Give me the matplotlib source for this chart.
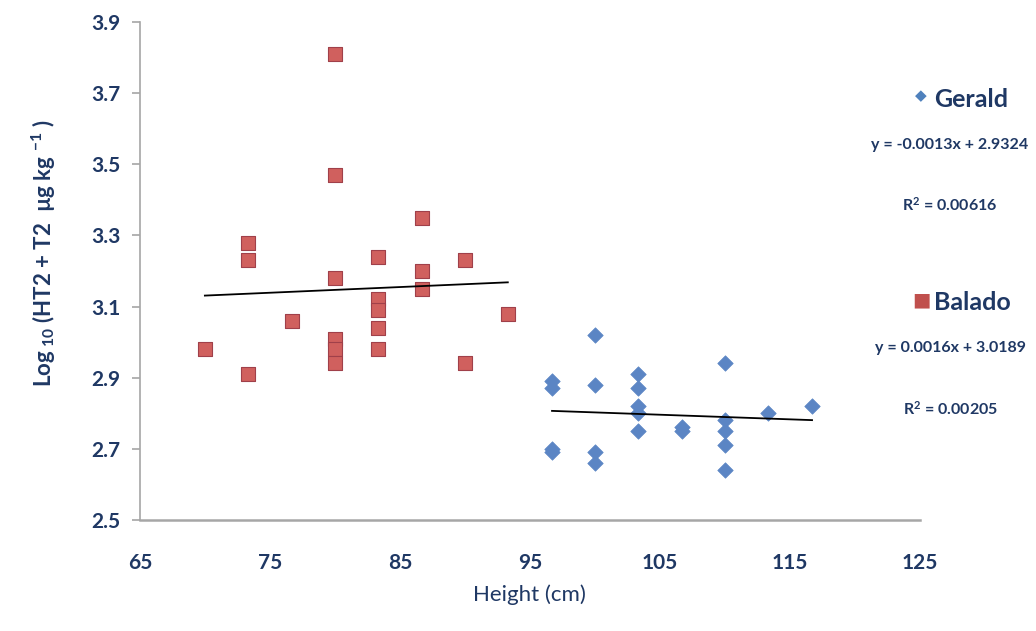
import numpy as np
import matplotlib
matplotlib.use('Agg')
import matplotlib.pyplot as plt

plt.rcParams['font.family'] = ['Lato', 'DejaVu Sans']
plt.rcParams['mathtext.fontset'] = 'custom'
plt.rcParams['mathtext.rm'] = 'Lato:bold'
plt.rcParams['mathtext.it'] = 'Lato:bold'
plt.rcParams['mathtext.bf'] = 'Lato:bold'

# Balado (red squares)
balado_x = [70, 73.3, 73.3, 73.3, 76.7, 80, 80, 80, 80, 80, 80,
            83.3, 83.3, 83.3, 83.3, 83.3, 86.7, 86.7, 86.7, 90, 90, 93.3]
balado_y = [2.98, 3.28, 3.23, 2.91, 3.06, 3.81, 3.47, 3.18, 3.01, 2.98, 2.94,
            3.24, 3.12, 3.09, 3.04, 2.98, 3.35, 3.20, 3.15, 3.23, 2.94, 3.08]

# Gerald (blue diamonds)
gerald_x = [96.7, 96.7, 96.7, 96.7, 100, 100, 100, 100,
            103.3, 103.3, 103.3, 103.3, 103.3, 106.7, 106.7,
            110, 110, 110, 110, 110, 113.3, 116.7]
gerald_y = [2.89, 2.87, 2.70, 2.69, 3.02, 2.88, 2.69, 2.66,
            2.91, 2.87, 2.82, 2.80, 2.75, 2.76, 2.75,
            2.94, 2.78, 2.75, 2.71, 2.64, 2.80, 2.82]

# trendline coefficients (slope, intercept)
balado_fit = (0.0016, 3.0189)
gerald_fit = (-0.0013, 2.9324)

x_ticks = [65, 75, 85, 95, 105, 115, 125]
y_ticks = [2.5, 2.7, 2.9, 3.1, 3.3, 3.5, 3.7, 3.9]

navy = '#1f3864'
red = '#c0504d'
blue = '#4f81bd'

fig = plt.figure(figsize=(10.36, 6.31), dpi=100)
ax = fig.add_axes([0.135, 0.176, 0.753, 0.789])

ax.scatter(balado_x, balado_y, marker='s', s=105, color='#d0605e',
           edgecolors='#a0404a', linewidths=0.8, zorder=3)
ax.scatter(gerald_x, gerald_y, marker='D', s=62, color='#5b85c4',
           edgecolors='#5b85c4', linewidths=0.5, zorder=3)

bx = np.array([min(balado_x), max(balado_x)])
ax.plot(bx, balado_fit[0] * bx + balado_fit[1], color='black', lw=1.3, zorder=4)
gx = np.array([min(gerald_x), max(gerald_x)])
ax.plot(gx, gerald_fit[0] * gx + gerald_fit[1], color='black', lw=1.3, zorder=4)

ax.set_xlim(65, 125)
ax.set_ylim(2.5, 3.9)
ax.set_xticks(x_ticks, [str(v) for v in x_ticks], fontweight='bold')
ax.set_yticks(y_ticks, ['%.1f' % v for v in y_ticks], fontweight='bold')

for s in ['top', 'right']:
    ax.spines[s].set_visible(False)
ax.spines['left'].set_color('#a6a6a6')
ax.spines['bottom'].set_color('#a6a6a6')
ax.spines['left'].set_linewidth(1.2)
ax.spines['bottom'].set_linewidth(1.8)
ax.tick_params(axis='y', colors='#a6a6a6', length=6, width=1.2, pad=8,
               labelcolor=navy, labelsize=15)
ax.tick_params(axis='x', length=0, pad=24, labelcolor=navy, labelsize=15)

ax.set_xlabel('Height (cm)', fontsize=16, color=navy, labelpad=8)
ax.set_ylabel(r'Log$_{\ 10}$ (HT2 + T2  µg kg $^{-1}$ )', fontsize=16,
              color=navy, fontweight='bold')
ax.yaxis.set_label_coords(-0.105, 0.535)

# right-hand legend with equations
fig.text(0.889, 0.847, '\u25c6', color=blue, fontsize=11, ha='center', va='center')
fig.text(0.902, 0.842, 'Gerald', color=navy, fontsize=18, fontweight='bold',
         ha='left', va='center')
fig.text(0.917, 0.770, 'y = -0.0013x + 2.9324', color=navy, fontsize=11.5,
         fontweight='bold', ha='center', va='center')
fig.text(0.917, 0.675, 'R$^2$ = 0.00616', color=navy, fontsize=11.5,
         fontweight='bold', ha='center', va='center')

fig.text(0.889, 0.525, '\u25a0', color=red, fontsize=14, ha='center', va='center')
fig.text(0.902, 0.520, 'Balado', color=navy, fontsize=18, fontweight='bold',
         ha='left', va='center')
fig.text(0.917, 0.448, 'y = 0.0016x + 3.0189', color=navy, fontsize=11.5,
         fontweight='bold', ha='center', va='center')
fig.text(0.917, 0.353, 'R$^2$ = 0.00205', color=navy, fontsize=11.5,
         fontweight='bold', ha='center', va='center')

fig.savefig('out.png', dpi=100)
